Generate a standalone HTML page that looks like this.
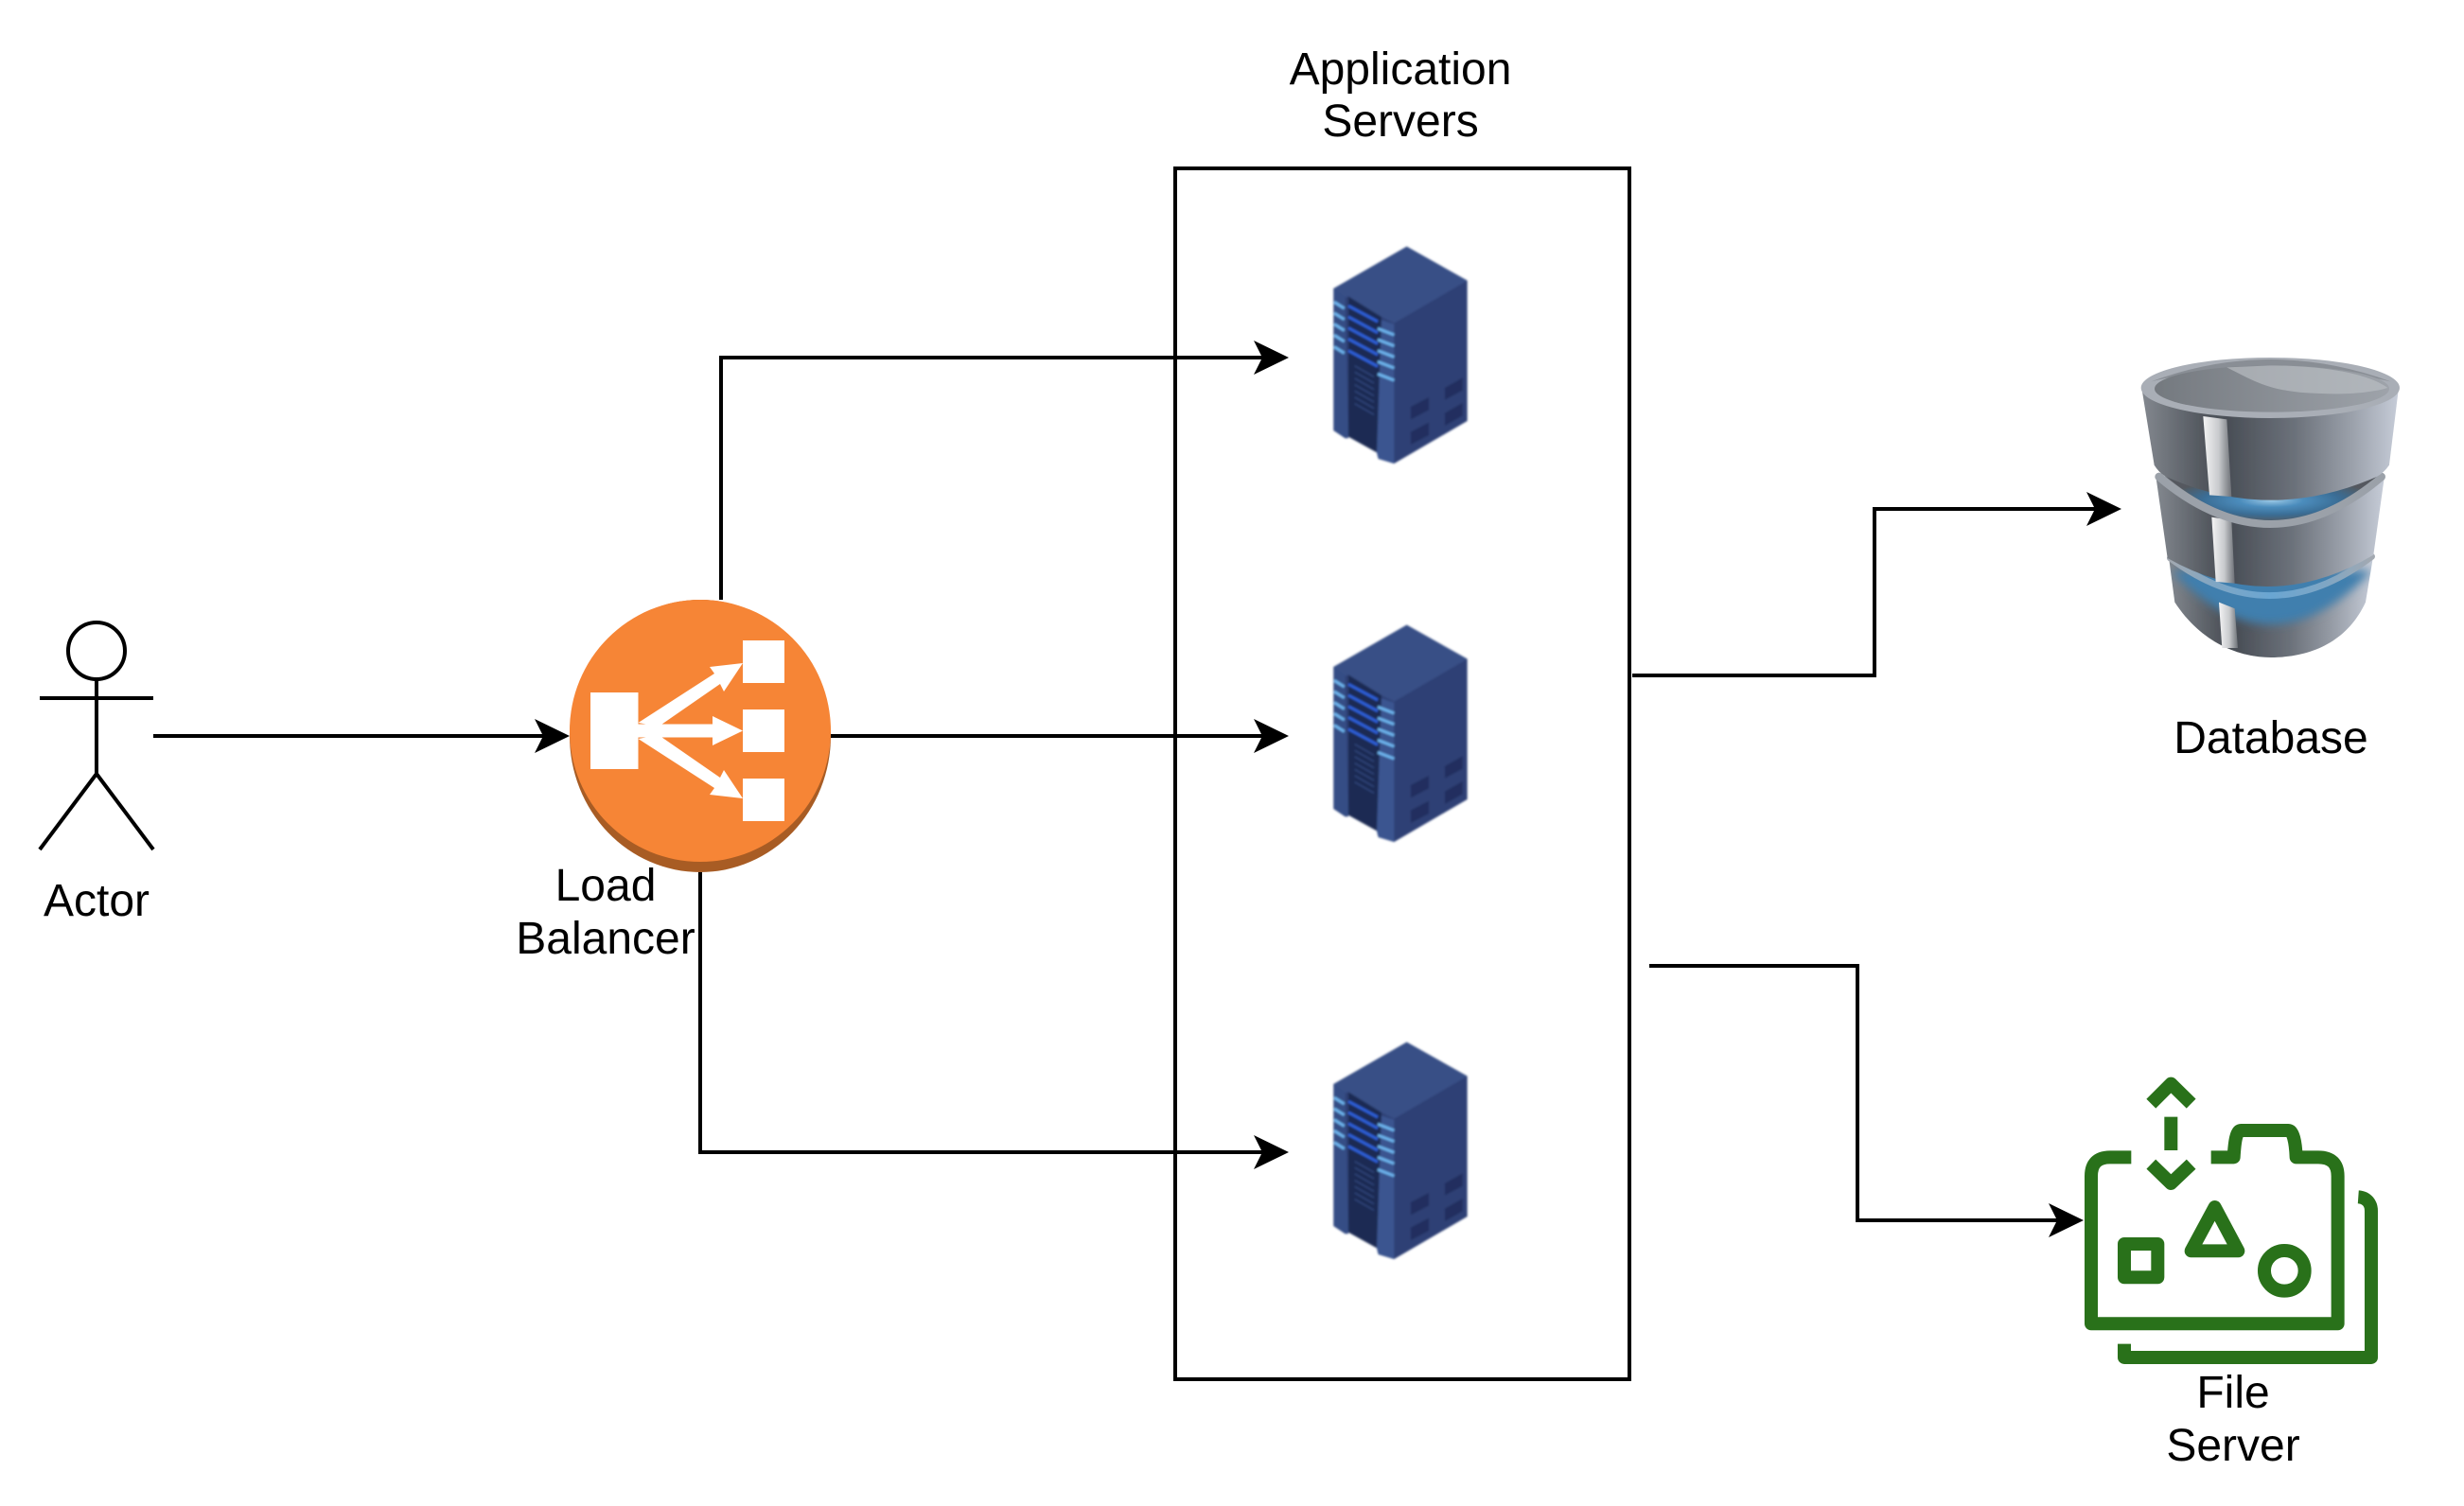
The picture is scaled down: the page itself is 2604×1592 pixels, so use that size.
<!DOCTYPE html>
<html><head><meta charset="utf-8"><style>
html,body{margin:0;padding:0;background:#fff}
svg{display:block}
text{font-family:"Liberation Sans",Arial,sans-serif;font-size:48px;fill:#000;text-anchor:middle}
</style></head><body>
<svg width="2604" height="1592" viewBox="0 0 2604 1592" xmlns="http://www.w3.org/2000/svg">
<defs>
<filter id="b" x="-5%" y="-5%" width="110%" height="110%"><feGaussianBlur stdDeviation="1"/></filter>
<filter id="b2" x="-10%" y="-30%" width="120%" height="160%"><feGaussianBlur stdDeviation="14"/></filter>
<linearGradient id="cyl" x1="0" x2="1" y1="0" y2="0">
<stop offset="0" stop-color="#83888f"/><stop offset=".24" stop-color="#52575e"/><stop offset=".34" stop-color="#4a4f57"/><stop offset=".6" stop-color="#6c727b"/><stop offset=".82" stop-color="#9ba1ab"/><stop offset="1" stop-color="#c6ccd8"/>
</linearGradient>
<linearGradient id="top" x1="0" x2="1" y1="0" y2="0"><stop offset="0" stop-color="#74797f"/><stop offset="1" stop-color="#9ea3aa"/></linearGradient>
<linearGradient id="hl" x1="0" x2="1" y1="0" y2="0"><stop offset="0" stop-color="#f4f4f5"/><stop offset=".55" stop-color="#c8cacd"/><stop offset="1" stop-color="#6d7177"/></linearGradient>
<radialGradient id="blue" cx=".5" cy=".55" r=".5"><stop offset="0" stop-color="#9cc9e6"/><stop offset=".3" stop-color="#4c8dbd"/><stop offset=".65" stop-color="#3a6d95"/><stop offset="1" stop-color="#54595f"/></radialGradient>
<linearGradient id="rim3" x1="0" x2="1" y1="0" y2="0"><stop offset="0" stop-color="#a3a9b1"/><stop offset=".22" stop-color="#7fa6c4"/><stop offset=".5" stop-color="#6aa6d2"/><stop offset=".78" stop-color="#7fa6c4"/><stop offset="1" stop-color="#a3a9b1"/></linearGradient>
<g id="srv">
<path d="M88,195 320,62 512,170 512,615 280,750 230,735 225,715 135,665 125,670 88,645Z" fill="#2d3f74"/>
<path d="M88,195 320,62 512,170 280,305 240,285 135,220 122,225Z" fill="#374f86"/>
<path d="M88,195 125,222 135,670 125,670 88,645Z" fill="#364d85"/>
<path d="M225,290 280,308 280,750 230,735 225,715Z" fill="#3a5490"/>
<path d="M135,220 240,285 225,715 135,665Z" fill="#1b2a52"/>
<g fill="none" stroke-width="9">
<g stroke="#2f5fd8">
<path d="M135,250 228,300M135,285 228,335M135,320 228,370M135,355 228,405M135,392 228,442"/></g>
<g stroke="#6db4ee">
<path d="M90,238 122,258M90,273 122,293M90,308 122,328M90,343 122,363M90,380 122,400"/>
<path d="M228,322 280,342M228,357 280,377M228,392 280,412M228,427 280,447M228,466 280,486"/></g>
<g stroke="#30467e" stroke-width="4"><path d="M155,440 216,475M155,460 216,495M155,480 216,515M155,500 216,535M155,520 216,555M155,540 216,575M155,560 216,595"/></g>
</g>
<g fill="#232f5e"><path d="M333,570 390,540 390,580 333,610Z"/><path d="M333,650 390,620 390,660 333,690Z"/><path d="M441,510 497,478 497,518 441,548Z"/><path d="M441,590 497,558 497,598 441,630Z"/></g>
</g>
<clipPath id="c3"><path d="M155,680 175,830C260,960 380,1005 480,1005 600,1005 720,960 780,830L805,680Z"/></clipPath>
</defs>
<rect width="2604" height="1592" fill="#fff"/>

<!-- connectors -->
<g fill="none" stroke="#000" stroke-width="4">
<path d="M162,778H580"/>
<path d="M762,634V378H1340"/>
<path d="M878,778H1340"/>
<path d="M740,922V1218H1340"/>
<path d="M1725,714H1981V538H2220"/>
<path d="M1743,1021H1963V1290H2180"/>
</g>
<g fill="#000">
<path d="M602,778 565,760 574,778 565,796Z"/>
<path d="M1362,378 1325,360 1334,378 1325,396Z"/>
<path d="M1362,778 1325,760 1334,778 1325,796Z"/>
<path d="M1362,1218 1325,1200 1334,1218 1325,1236Z"/>
<path d="M2242,538 2205,520 2214,538 2205,556Z"/>
<path d="M2202,1290 2165,1272 2174,1290 2165,1308Z"/>
</g>

<!-- app box -->
<rect x="1242" y="178" width="480" height="1280" fill="none" stroke="#000" stroke-width="4"/>

<!-- actor -->
<g fill="none" stroke="#000" stroke-width="4">
<ellipse cx="102" cy="688" rx="30" ry="30"/>
<path d="M102,718V818M42,738H162M42,898 102,818 162,898"/>
</g>

<!-- load balancer -->
<ellipse cx="740" cy="778" rx="138" ry="144" fill="#a85c24"/>
<ellipse cx="740" cy="772.500" rx="138" ry="138.500" fill="#f68536"/>
<g fill="#fff">
<rect x="624" y="732" width="50.500" height="81"/>
<rect x="785" y="677" width="44" height="45"/>
<rect x="785" y="750" width="44" height="45"/>
<rect x="785" y="823" width="44" height="45"/>
<path d="M674.500,765.500 H753V757L785,772.500 753,788V779.500H674.500Z"/>
<path d="M674.500,764 755,712 750,705 785,701 765,731 761,723 696,768Z"/>
<path d="M674.500,781 755,833 750,840 785,844 765,814 761,822 696,777Z"/>
</g>

<!-- servers -->
<g filter="url(#b)">
<use href="#srv" transform="translate(1380,240) scale(.3333)"/>
<use href="#srv" transform="translate(1380,640) scale(.3333)"/>
<use href="#srv" transform="translate(1380,1081) scale(.3333)"/>
</g>

<!-- database -->
<g transform="translate(2240,360) scale(.3333)" filter="url(#b)">
<path d="M155,680 175,830C260,960 380,1005 480,1005 600,1005 720,960 780,830L805,680Z" fill="url(#cyl)"/>
<g clip-path="url(#c3)"><path d="M165,730Q478,1070 800,730Z" fill="#3f7fae" filter="url(#b2)"/></g>
<path d="M315,830 365,850 375,975 325,975Z" fill="url(#hl)"/>
<path d="M160,690Q478,930 800,685" fill="none" stroke="url(#rim3)" stroke-width="20" stroke-linecap="round"/>
<path d="M115,430 152,690Q478,875 805,680L840,430Z" fill="url(#cyl)"/>
<path d="M292,560 355,570 365,770 305,765Z" fill="url(#hl)"/>
<path d="M125,432Q478,730 830,432" fill="none" stroke="#9ba1a9" stroke-width="26" stroke-linecap="round"/>
<path d="M146,430Q478,710 817,430Z" fill="url(#blue)"/>
<path d="M70,150 110,395Q125,420 148,432Q478,580 815,432Q838,420 855,395L885,150Z" fill="url(#cyl)"/>
<path d="M265,240 340,250 355,495 285,490Z" fill="url(#hl)"/>
<ellipse cx="478" cy="150" rx="410" ry="96" fill="#a9aeb6"/>
<path d="M100,130Q478,-10 860,130Q478,40 100,130Z" fill="#74787e" opacity=".6"/>
<ellipse cx="483" cy="153" rx="372" ry="74" fill="url(#top)"/>
<path d="M340,85C430,130 480,165 640,168 720,172 800,165 850,150 790,105 650,80 480,79Z" fill="#bcc0c5" opacity=".65"/>
</g>

<!-- file server -->
<g transform="translate(2180,1120) scale(.3333)" fill="none" stroke="#29711a" stroke-width="42" stroke-linejoin="round">
<path d="M217,310H150Q90,310 90,370V838H872V370Q872,310 810,310H740C738,260 730,225 715,225H565C550,225 545,260 542,310H470"/>
<path d="M937,436C965,438 978,458 978,480V945H195V902"/>
<path d="M280,140 343,77 407,140"/>
<path d="M343,182V288"/>
<path d="M280,332 343,393 407,332"/>
<rect x="195" y="585" width="106" height="106"/>
<path d="M482,468 556,607H407Z"/>
<circle cx="703" cy="670" r="64"/>
</g>

<!-- labels -->
<text x="1480" y="89">Application</text>
<text x="1480" y="144">Servers</text>
<text x="102" y="968">Actor</text>
<text x="640" y="952">Load</text>
<text x="640" y="1008">Balancer</text>
<text x="2400" y="796">Database</text>
<text x="2360" y="1488">File</text>
<text x="2360" y="1544">Server</text>
</svg>
</body></html>
